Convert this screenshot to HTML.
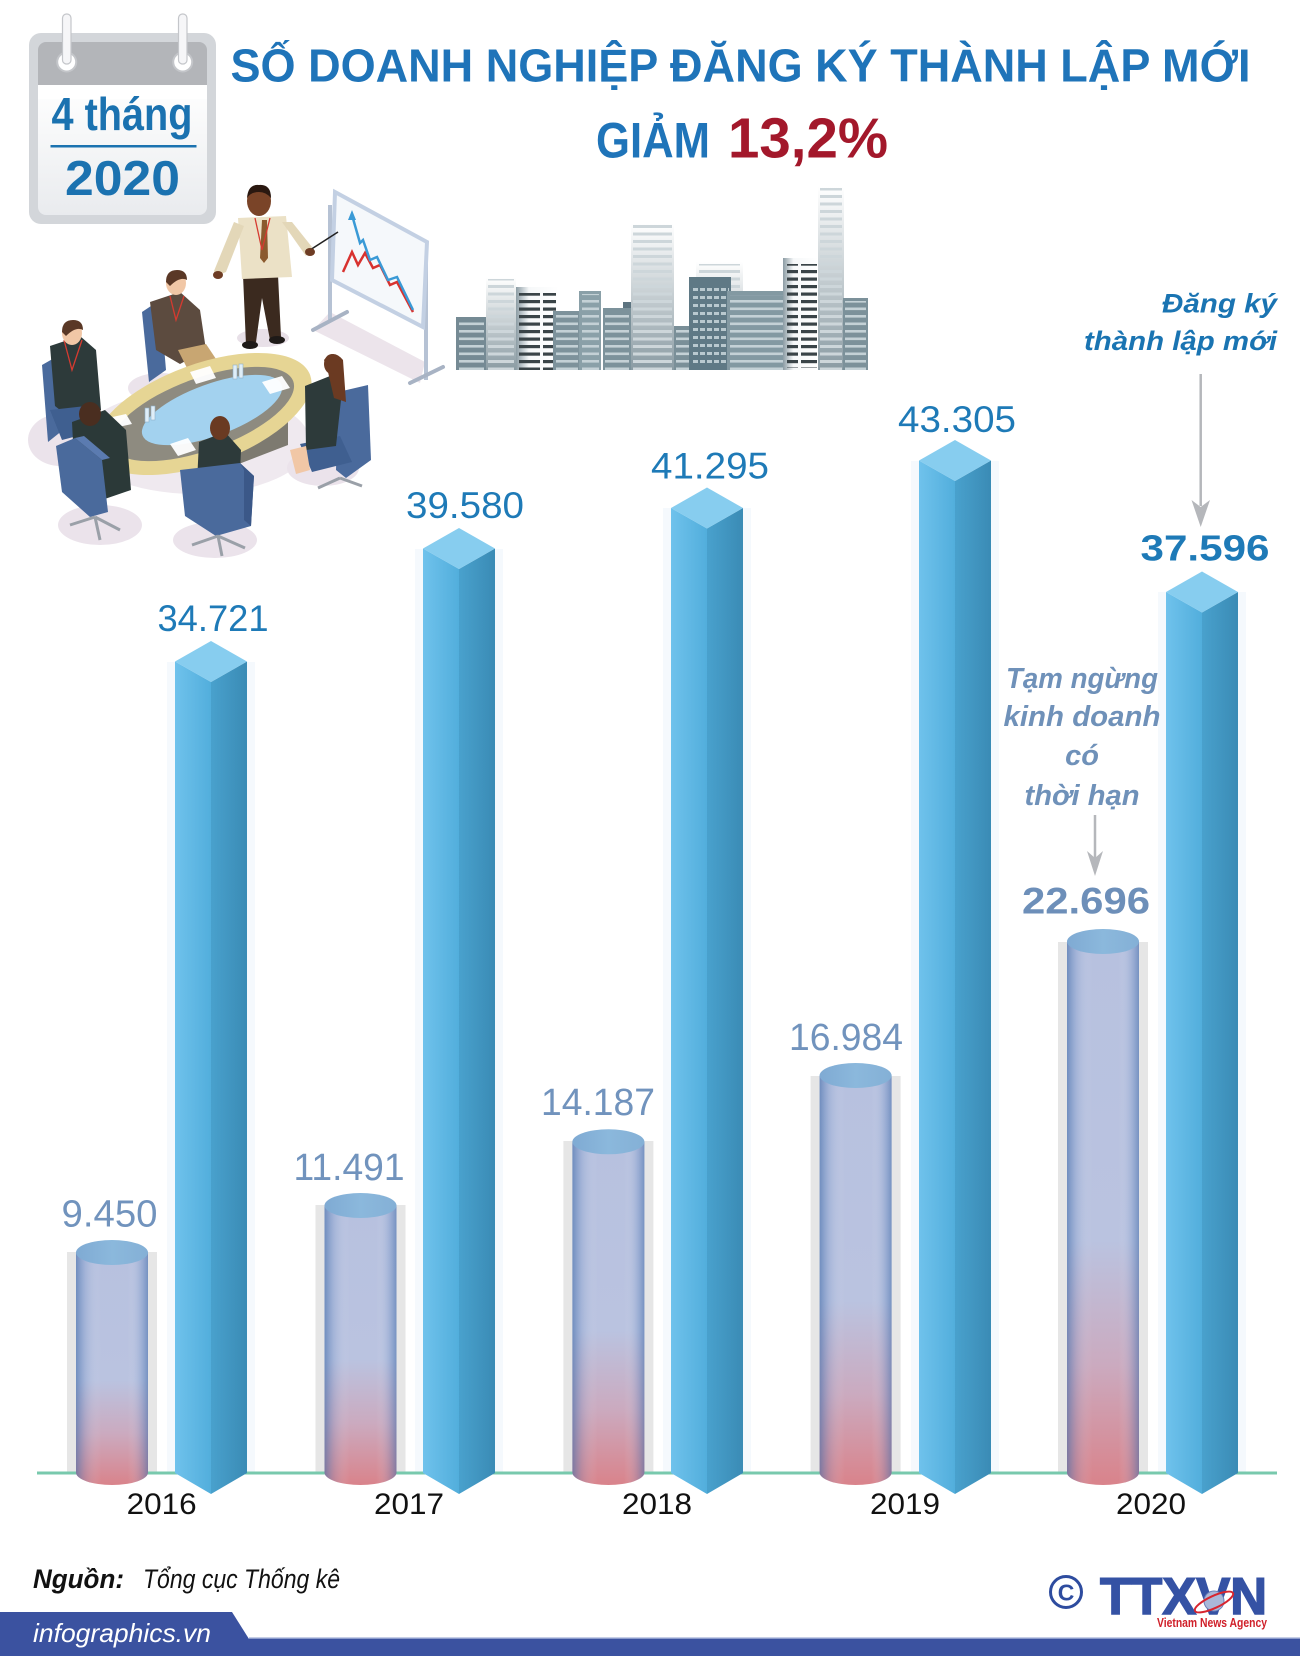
<!DOCTYPE html>
<html>
<head>
<meta charset="utf-8">
<style>
html,body{margin:0;padding:0;background:#fff;}
svg{display:block;}
text{font-family:"Liberation Sans","DejaVu Sans",sans-serif;}
</style>
</head>
<body>
<svg width="1300" height="1656" viewBox="0 0 1300 1656" xmlns="http://www.w3.org/2000/svg">
<defs>
  <linearGradient id="lf" x1="0" x2="1" y1="0" y2="0">
    <stop offset="0" stop-color="#6fc2ec"/><stop offset="1" stop-color="#52aedc"/>
  </linearGradient>
  <linearGradient id="rf" x1="0" x2="1" y1="0" y2="0">
    <stop offset="0" stop-color="#49a1cd"/><stop offset="1" stop-color="#3a8bb5"/>
  </linearGradient>
  <linearGradient id="cb" x1="0" x2="0" y1="0" y2="1">
    <stop offset="0" stop-color="#b7c1df"/><stop offset="0.55" stop-color="#bac3e0"/>
    <stop offset="0.78" stop-color="#cbaabf"/><stop offset="1" stop-color="#d9838b"/>
  </linearGradient>
  <linearGradient id="cs" x1="0" x2="1" y1="0" y2="0">
    <stop offset="0" stop-color="#3f6aa8" stop-opacity="0.6"/>
    <stop offset="0.13" stop-color="#5a82bc" stop-opacity="0.22"/>
    <stop offset="0.35" stop-color="#ffffff" stop-opacity="0"/>
    <stop offset="0.72" stop-color="#ffffff" stop-opacity="0"/>
    <stop offset="0.9" stop-color="#5a82bc" stop-opacity="0.25"/>
    <stop offset="1" stop-color="#3f6aa8" stop-opacity="0.55"/>
  </linearGradient>
  <linearGradient id="ct" x1="0" x2="1" y1="0" y2="0">
    <stop offset="0" stop-color="#7faad3"/><stop offset="0.5" stop-color="#8bb8dc"/><stop offset="1" stop-color="#84b0d6"/>
  </linearGradient>
  <linearGradient id="gLight" x1="0" x2="0" y1="0" y2="1">
    <stop offset="0" stop-color="#ffffff"/><stop offset="1" stop-color="#8a9ba3"/>
  </linearGradient>
  <linearGradient id="gLight2" x1="0" x2="1" y1="0" y2="0">
    <stop offset="0" stop-color="#8c9ca4"/><stop offset="0.3" stop-color="#f6f8f9"/><stop offset="1" stop-color="#ffffff"/>
  </linearGradient>
  <linearGradient id="calW" x1="0" x2="0" y1="0" y2="1">
    <stop offset="0" stop-color="#ffffff"/><stop offset="1" stop-color="#e9ebee"/>
  </linearGradient>
  <pattern id="pS" width="8" height="7.5" patternUnits="userSpaceOnUse">
    <rect x="0" y="0" width="8" height="2.6" fill="#c4d1d6"/>
  </pattern>
  <pattern id="pL" width="8" height="7.5" patternUnits="userSpaceOnUse">
    <rect x="0" y="0" width="8" height="3" fill="#cdd6da"/>
  </pattern>
  <pattern id="pD" width="8" height="7.5" patternUnits="userSpaceOnUse">
    <rect x="0" y="0" width="8" height="3.2" fill="#3a4448"/>
  </pattern>
  <pattern id="pG" width="7" height="8" patternUnits="userSpaceOnUse">
    <rect x="0" y="0" width="5" height="3" fill="#b9c9cf"/>
  </pattern>
</defs>

<!-- ============ CALENDAR ============ -->
<rect x="29" y="33" width="187" height="191" rx="12" fill="#d3d6da"/>
<rect x="38" y="42" width="169" height="43" rx="8" fill="#b3b5b9"/>
<rect x="38" y="70" width="169" height="15" fill="#b3b5b9"/>
<rect x="38" y="85" width="169" height="130" rx="8" fill="url(#calW)"/>
<rect x="38" y="85" width="169" height="14" fill="#ffffff"/>
<circle cx="66.7" cy="62" r="9.5" fill="#ffffff" stroke="#c4c6ca" stroke-width="2"/>
<circle cx="182.7" cy="62" r="9.5" fill="#ffffff" stroke="#c4c6ca" stroke-width="2"/>
<rect x="62.5" y="14" width="8.5" height="50" rx="4" fill="#f6f6f8" stroke="#c4c6ca" stroke-width="1.2"/>
<rect x="178.5" y="14" width="8.5" height="50" rx="4" fill="#f6f6f8" stroke="#c4c6ca" stroke-width="1.2"/>
<text x="51.5" y="130" font-size="46" font-weight="bold" fill="#1b72b0" textLength="141" lengthAdjust="spacingAndGlyphs">4 tháng</text>
<rect x="50.5" y="145" width="146" height="2.5" fill="#1b72b0"/>
<text x="65" y="195" font-size="49" font-weight="bold" fill="#1b72b0" textLength="115" lengthAdjust="spacingAndGlyphs">2020</text>

<!-- ============ TITLE ============ -->
<text x="230.5" y="81.4" font-size="46" font-weight="bold" fill="#1f74b9" textLength="1020" lengthAdjust="spacingAndGlyphs">SỐ DOANH NGHIỆP ĐĂNG KÝ THÀNH LẬP MỚI</text>
<text x="596" y="157.3" font-size="50" font-weight="bold" fill="#1f74b9" textLength="114" lengthAdjust="spacingAndGlyphs">GIẢM</text>
<text x="728" y="157.3" font-size="57" font-weight="bold" fill="#a3182b" textLength="160" lengthAdjust="spacingAndGlyphs">13,2%</text>

<!-- ============ BUILDINGS ============ -->
<g>
  <rect x="696" y="262" width="47" height="108" fill="url(#gLight)"/>
  <rect x="699" y="264" width="41" height="106" fill="url(#pL)"/>
  <rect x="456" y="317" width="30" height="53" fill="#758a94"/>
  <rect x="459" y="320" width="25" height="50" fill="url(#pS)"/>
  <rect x="486" y="278" width="30" height="92" fill="url(#gLight)"/>
  <rect x="488" y="279" width="26" height="91" fill="url(#pL)"/>
  <rect x="516" y="287" width="43" height="83" fill="url(#gLight2)"/>
  <rect x="519" y="293" width="21" height="77" fill="url(#pD)"/>
  <rect x="543" y="293" width="13" height="77" fill="url(#pD)"/>
  <rect x="553" y="311" width="27" height="59" fill="#7d929b"/>
  <rect x="556" y="314" width="22" height="56" fill="url(#pS)"/>
  <rect x="579" y="291" width="22" height="79" fill="#8aa0a8"/>
  <rect x="582" y="294" width="17" height="76" fill="url(#pS)"/>
  <rect x="623" y="302" width="10" height="68" fill="#5d7480"/>
  <rect x="603" y="308" width="28" height="62" fill="#7c929b"/>
  <rect x="605" y="311" width="24" height="59" fill="url(#pS)"/>
  <rect x="631" y="224" width="43" height="146" fill="url(#gLight)"/>
  <rect x="633" y="225" width="39" height="145" fill="url(#pL)"/>
  <rect x="674" y="326" width="17" height="44" fill="#7a8f98"/>
  <rect x="676" y="328" width="14" height="42" fill="url(#pS)"/>
  <rect x="689" y="277" width="42" height="93" fill="#5f7985"/>
  <rect x="693" y="283" width="36" height="85" fill="url(#pG)"/>
  <rect x="727" y="291" width="61" height="79" fill="#8399a2"/>
  <rect x="730" y="295" width="56" height="75" fill="url(#pS)"/>
  <rect x="783" y="258" width="35" height="112" fill="url(#gLight2)"/>
  <rect x="787" y="264" width="11" height="104" fill="url(#pD)"/>
  <rect x="801" y="264" width="16" height="104" fill="url(#pD)"/>
  <rect x="818" y="187" width="26" height="183" fill="url(#gLight)"/>
  <rect x="820" y="188" width="22" height="182" fill="url(#pL)"/>
  <rect x="843" y="298" width="25" height="72" fill="#7c919a"/>
  <rect x="845" y="301" width="21" height="69" fill="url(#pS)"/>
</g>

<!-- ============ MEETING ILLUSTRATION ============ -->
<g>
  <ellipse cx="195" cy="442" rx="115" ry="52" fill="#efe9ef"/>
  <ellipse cx="60" cy="440" rx="32" ry="26" fill="#ebe3eb"/>
  <ellipse cx="100" cy="525" rx="42" ry="20" fill="#ebe3eb"/>
  <ellipse cx="215" cy="540" rx="42" ry="18" fill="#ebe3eb"/>
  <ellipse cx="323" cy="468" rx="36" ry="18" fill="#ebe3eb"/>
  <ellipse cx="160" cy="388" rx="32" ry="15" fill="#ebe3eb"/>
  <ellipse cx="263" cy="338" rx="26" ry="9" fill="#e8e0e8"/>
  <polygon points="330,312 425,362 420,383 313,330" fill="#ece4eb"/>
  <line x1="330" y1="205" x2="330" y2="322" stroke="#b6c2d4" stroke-width="4"/>
  <line x1="426" y1="258" x2="426" y2="380" stroke="#b6c2d4" stroke-width="4"/>
  <polygon points="335,192 427,242 423,327 332,280" fill="#f5f8fb" stroke="#c3d0e3" stroke-width="4"/>
  <line x1="313" y1="330" x2="347" y2="312" stroke="#a8b3c4" stroke-width="4" stroke-linecap="round"/>
  <line x1="410" y1="383" x2="443" y2="367" stroke="#a8b3c4" stroke-width="4" stroke-linecap="round"/>
  <polyline points="343,272 352,252 358,265 365,253 373,268 380,265 390,285 397,282 413,312" fill="none" stroke="#d8322f" stroke-width="2.5"/>
  <polyline points="352,215 360,243 363,240 370,260 377,257 388,280 397,277 413,310" fill="none" stroke="#3a9ad6" stroke-width="2.5"/>
  <polygon points="348,220 352,210 356,220" fill="#3a9ad6"/>
  <polygon points="243,275 278,275 281,337 270,340 262,298 256,342 246,345" fill="#3b2a1f"/>
  <ellipse cx="250" cy="345" rx="8" ry="4" fill="#1e1a18"/>
  <ellipse cx="277" cy="340" rx="8" ry="4" fill="#1e1a18"/>
  <polygon points="238,218 286,216 292,277 242,279" fill="#ebe1c6"/>
  <polygon points="234,222 244,226 226,272 216,276 214,271" fill="#e3d7b8"/>
  <polygon points="282,222 292,222 312,247 306,256" fill="#e3d7b8"/>
  <line x1="310" y1="250" x2="338" y2="232" stroke="#222" stroke-width="1.6"/>
  <ellipse cx="218" cy="275" rx="5" ry="4" fill="#6e3c24"/>
  <ellipse cx="310" cy="252" rx="5" ry="4" fill="#6e3c24"/>
  <polygon points="262,220 267,220 268,258 264,263 260,258" fill="#8b5a2e"/>
  <polyline points="255,218 262,250 270,218" fill="none" stroke="#d63a30" stroke-width="1.3"/>
  <ellipse cx="259" cy="201" rx="12" ry="15" fill="#7a4428"/>
  <path d="M247,198 Q248,184 259,185 Q271,184 271,198 Q266,192 259,192 Q251,192 247,198Z" fill="#2a1810"/>
  <polygon points="142,312 160,300 166,370 149,382" fill="#4a6a9c"/>
  <polygon points="150,302 180,292 200,310 206,350 180,364 156,350" fill="#5c4b3f"/>
  <polygon points="178,350 206,344 218,362 190,374" fill="#c8a672"/>
  <polyline points="170,296 176,320 184,296" fill="none" stroke="#d63a30" stroke-width="1.3"/>
  <ellipse cx="176" cy="283" rx="10" ry="12" fill="#f1c7a6"/>
  <path d="M166,282 Q166,270 177,270 Q187,270 187,280 Q180,276 170,286Z" fill="#5a3826"/>
  <polygon points="42,365 56,357 63,430 48,442" fill="#4a6a9c"/>
  <polygon points="50,346 80,336 96,350 101,410 75,422 55,406" fill="#2d3a3a"/>
  <polyline points="64,340 72,370 82,340" fill="none" stroke="#d63a30" stroke-width="1.3"/>
  <polygon points="50,410 95,405 108,428 62,440" fill="#3f5f90"/>
  <ellipse cx="72" cy="333" rx="10" ry="12" fill="#f1c7a6"/>
  <path d="M62,332 Q62,320 73,320 Q83,320 83,330 Q76,326 66,336Z" fill="#5a3826"/>
  <polygon points="338,392 368,385 371,460 346,478 336,470" fill="#4a6a9c"/>
  <polygon points="300,444 340,436 352,462 312,472" fill="#3f5f90"/>
  <polygon points="215,430 288,400 288,445 218,472" fill="#7d7a70"/>
  <ellipse cx="203" cy="414" rx="114" ry="50" transform="rotate(-20 203 414)" fill="#e6d594"/>
  <ellipse cx="203" cy="414" rx="96" ry="36" transform="rotate(-20 203 414)" fill="#8e8b80"/>
  <ellipse cx="212" cy="410" rx="74" ry="26" transform="rotate(-20 212 410)" fill="#a3d2ef"/>
  <polygon points="190,372 210,366 216,378 196,384" fill="#ffffff" opacity="0.95"/>
  <polygon points="262,382 282,376 290,388 270,394" fill="#ffffff" opacity="0.95"/>
  <polygon points="108,418 126,414 132,424 114,428" fill="#ffffff" opacity="0.95"/>
  <polygon points="170,444 188,438 196,450 178,456" fill="#ffffff" opacity="0.95"/>
  <rect x="233" y="365" width="4" height="14" fill="#dfeef8" stroke="#8fb0c8" stroke-width="0.6"/>
  <rect x="239" y="364" width="4" height="14" fill="#dfeef8" stroke="#8fb0c8" stroke-width="0.6"/>
  <rect x="145" y="408" width="4" height="14" fill="#dfeef8" stroke="#8fb0c8" stroke-width="0.6"/>
  <rect x="151" y="406" width="4" height="14" fill="#dfeef8" stroke="#8fb0c8" stroke-width="0.6"/>
  <polygon points="305,386 330,376 341,400 336,446 306,450" fill="#2d3a3a"/>
  <polygon points="290,450 306,446 310,470 296,474" fill="#f1c7a6"/>
  <path d="M324,360 Q333,348 343,360 L346,402 L334,398 L328,372Z" fill="#6b3a22"/>
  <ellipse cx="332" cy="364" rx="8" ry="10" fill="#6b3a22"/>
  <polygon points="72,422 105,410 126,430 131,490 96,502 75,482" fill="#2b3938"/>
  <ellipse cx="90" cy="414" rx="11" ry="12" fill="#4a2e20"/>
  <polygon points="56,446 75,438 102,460 108,512 90,517 62,492" fill="#4a6a9c"/>
  <polygon points="75,438 84,436 110,458 102,460" fill="#5b7bb0"/>
  <line x1="95" y1="517" x2="70" y2="525" stroke="#9aa0a8" stroke-width="3"/>
  <line x1="95" y1="517" x2="120" y2="530" stroke="#9aa0a8" stroke-width="3"/>
  <line x1="95" y1="517" x2="100" y2="540" stroke="#9aa0a8" stroke-width="3"/>
  <polygon points="199,442 225,432 241,450 239,495 210,502 197,482" fill="#2d3a3a"/>
  <ellipse cx="220" cy="428" rx="10" ry="12" fill="#6a3a22"/>
  <polygon points="180,470 240,463 254,476 251,526 216,536 185,516" fill="#4a6a9c"/>
  <polygon points="240,463 254,476 251,526 244,520 244,470" fill="#3b5888"/>
  <line x1="218" y1="536" x2="192" y2="545" stroke="#9aa0a8" stroke-width="3"/>
  <line x1="218" y1="536" x2="245" y2="548" stroke="#9aa0a8" stroke-width="3"/>
  <line x1="218" y1="536" x2="222" y2="556" stroke="#9aa0a8" stroke-width="3"/>
  <line x1="340" y1="478" x2="318" y2="488" stroke="#9aa0a8" stroke-width="3"/>
  <line x1="340" y1="478" x2="362" y2="486" stroke="#9aa0a8" stroke-width="3"/>
</g>

<!-- ============ TOP ANNOTATION ============ -->
<text x="1277" y="312.7" font-size="27" font-weight="bold" font-style="italic" fill="#1a74b2" text-anchor="end" textLength="115" lengthAdjust="spacingAndGlyphs">Đăng ký</text>
<text x="1277" y="350" font-size="27" font-weight="bold" font-style="italic" fill="#1a74b2" text-anchor="end" textLength="193" lengthAdjust="spacingAndGlyphs">thành lập mới</text>
<line x1="1200.7" y1="374" x2="1200.7" y2="506" stroke="#b5b7bb" stroke-width="2.5"/>
<path d="M1191.5,500 L1200.7,527 L1210,500 L1200.7,507 Z" fill="#b5b7bb"/>

<!-- ============ CHART ============ -->
<g fill="#f5f9fd">
  <rect x="167" y="662" width="88" height="811"/>
  <rect x="415" y="549" width="88" height="924"/>
  <rect x="663" y="508" width="88" height="965"/>
  <rect x="911" y="461" width="88" height="1012"/>
  <rect x="1158" y="592" width="88" height="881"/>
</g>
<g fill="#e6e6e6">
  <rect x="67" y="1252" width="90" height="221"/>
  <rect x="315.5" y="1205" width="90" height="268"/>
  <rect x="563.4" y="1141" width="90" height="332"/>
  <rect x="810.6" y="1076" width="90" height="397"/>
  <rect x="1058" y="942" width="90" height="531"/>
</g>
<line x1="37" y1="1473" x2="1277" y2="1473" stroke="#78c9ad" stroke-width="3"/>

<g>
  <path d="M76,1252.5 L76,1472.5 A36 12.5 0 0 0 148,1472.5 L148,1252.5 Z" fill="url(#cb)"/>
  <path d="M76,1252.5 L76,1472.5 A36 12.5 0 0 0 148,1472.5 L148,1252.5 Z" fill="url(#cs)"/>
  <ellipse cx="112" cy="1252.5" rx="36" ry="12.5" fill="url(#ct)"/>

  <path d="M324.5,1205.5 L324.5,1472.5 A36 12.5 0 0 0 396.5,1472.5 L396.5,1205.5 Z" fill="url(#cb)"/>
  <path d="M324.5,1205.5 L324.5,1472.5 A36 12.5 0 0 0 396.5,1472.5 L396.5,1205.5 Z" fill="url(#cs)"/>
  <ellipse cx="360.5" cy="1205.5" rx="36" ry="12.5" fill="url(#ct)"/>

  <path d="M572.4,1141.8 L572.4,1472.5 A36 12.5 0 0 0 644.4,1472.5 L644.4,1141.8 Z" fill="url(#cb)"/>
  <path d="M572.4,1141.8 L572.4,1472.5 A36 12.5 0 0 0 644.4,1472.5 L644.4,1141.8 Z" fill="url(#cs)"/>
  <ellipse cx="608.4" cy="1141.8" rx="36" ry="12.5" fill="url(#ct)"/>

  <path d="M819.6,1075.5 L819.6,1472.5 A36 12.5 0 0 0 891.6,1472.5 L891.6,1075.5 Z" fill="url(#cb)"/>
  <path d="M819.6,1075.5 L819.6,1472.5 A36 12.5 0 0 0 891.6,1472.5 L891.6,1075.5 Z" fill="url(#cs)"/>
  <ellipse cx="855.6" cy="1075.5" rx="36" ry="12.5" fill="url(#ct)"/>

  <path d="M1067,941.5 L1067,1472.5 A36 12.5 0 0 0 1139,1472.5 L1139,941.5 Z" fill="url(#cb)"/>
  <path d="M1067,941.5 L1067,1472.5 A36 12.5 0 0 0 1139,1472.5 L1139,941.5 Z" fill="url(#cs)"/>
  <ellipse cx="1103" cy="941.5" rx="36" ry="12.5" fill="url(#ct)"/>
</g>

<g>
  <polygon points="175,661.5 211,682 211,1494 175,1473" fill="url(#lf)"/>
  <polygon points="211,682 247,661.5 247,1473 211,1494" fill="url(#rf)"/>
  <polygon points="175,661.5 211,641 247,661.5 211,682" fill="#87cdef"/>

  <polygon points="423,548.5 459,569 459,1494 423,1473" fill="url(#lf)"/>
  <polygon points="459,569 495,548.5 495,1473 459,1494" fill="url(#rf)"/>
  <polygon points="423,548.5 459,528 495,548.5 459,569" fill="#87cdef"/>

  <polygon points="671,508 707,528.5 707,1494 671,1473" fill="url(#lf)"/>
  <polygon points="707,528.5 743,508 743,1473 707,1494" fill="url(#rf)"/>
  <polygon points="671,508 707,487.5 743,508 707,528.5" fill="#87cdef"/>

  <polygon points="919,460.5 955,481 955,1494 919,1473" fill="url(#lf)"/>
  <polygon points="955,481 991,460.5 991,1473 955,1494" fill="url(#rf)"/>
  <polygon points="919,460.5 955,440 991,460.5 955,481" fill="#87cdef"/>

  <polygon points="1166,592 1202,612.5 1202,1494 1166,1473" fill="url(#lf)"/>
  <polygon points="1202,612.5 1238,592 1238,1473 1202,1494" fill="url(#rf)"/>
  <polygon points="1166,592 1202,571.5 1238,592 1202,612.5" fill="#87cdef"/>
</g>

<g font-size="37" fill="#1e7ab7" text-anchor="middle">
  <text x="213" y="631" textLength="111" lengthAdjust="spacingAndGlyphs">34.721</text>
  <text x="465" y="518" textLength="118" lengthAdjust="spacingAndGlyphs">39.580</text>
  <text x="710" y="478.6" textLength="118" lengthAdjust="spacingAndGlyphs">41.295</text>
  <text x="957" y="432" textLength="118" lengthAdjust="spacingAndGlyphs">43.305</text>
</g>
<text x="1205" y="560.7" font-size="36" font-weight="bold" fill="#1e7ab7" text-anchor="middle" textLength="129" lengthAdjust="spacingAndGlyphs">37.596</text>

<g font-size="38" fill="#7193bd" text-anchor="middle">
  <text x="109.5" y="1226.7" textLength="96" lengthAdjust="spacingAndGlyphs">9.450</text>
  <text x="349" y="1180" textLength="111" lengthAdjust="spacingAndGlyphs">11.491</text>
  <text x="598" y="1115" textLength="114" lengthAdjust="spacingAndGlyphs">14.187</text>
  <text x="846" y="1050" textLength="114" lengthAdjust="spacingAndGlyphs">16.984</text>
</g>
<text x="1086" y="913.6" font-size="37" font-weight="bold" fill="#6d8fb9" text-anchor="middle" textLength="128" lengthAdjust="spacingAndGlyphs">22.696</text>

<g font-size="29" font-weight="bold" font-style="italic" fill="#6f91b9" text-anchor="middle">
  <text x="1082" y="688" textLength="152" lengthAdjust="spacingAndGlyphs">Tạm ngừng</text>
  <text x="1082" y="726" textLength="157" lengthAdjust="spacingAndGlyphs">kinh doanh</text>
  <text x="1082" y="765">có</text>
  <text x="1082" y="805" textLength="115" lengthAdjust="spacingAndGlyphs">thời hạn</text>
</g>
<line x1="1095" y1="815" x2="1095" y2="858" stroke="#b5b7bb" stroke-width="2.5"/>
<path d="M1087,851 L1095,876 L1103,851 L1095,858 Z" fill="#b5b7bb"/>

<g font-size="30" fill="#111" text-anchor="middle">
  <text x="161.7" y="1514" textLength="70" lengthAdjust="spacingAndGlyphs">2016</text>
  <text x="409" y="1514" textLength="70" lengthAdjust="spacingAndGlyphs">2017</text>
  <text x="657" y="1514" textLength="70" lengthAdjust="spacingAndGlyphs">2018</text>
  <text x="905" y="1514" textLength="70" lengthAdjust="spacingAndGlyphs">2019</text>
  <text x="1151" y="1514" textLength="70" lengthAdjust="spacingAndGlyphs">2020</text>
</g>

<!-- ============ FOOTER ============ -->
<text x="33" y="1588" font-size="27" font-weight="bold" font-style="italic" fill="#111" textLength="91" lengthAdjust="spacingAndGlyphs">Nguồn:</text>
<text x="143" y="1588" font-size="27" font-style="italic" fill="#111" textLength="197" lengthAdjust="spacingAndGlyphs">Tổng cục Thống kê</text>

<circle cx="1066" cy="1592" r="15.5" fill="none" stroke="#2e4c9f" stroke-width="3"/>
<text x="1066" y="1600.5" font-size="23" font-weight="bold" fill="#2e4c9f" text-anchor="middle">C</text>
<text x="1100" y="1614" font-size="52" font-weight="bold" fill="#3552a4" textLength="167" lengthAdjust="spacingAndGlyphs" stroke="#3552a4" stroke-width="1.5">TTXVN</text>
<ellipse cx="1214" cy="1601" rx="10" ry="10" fill="#aab8d8" stroke="#6a7fb8" stroke-width="1"/>
<ellipse cx="1214" cy="1602" rx="21" ry="6" fill="none" stroke="#d8252f" stroke-width="2" transform="rotate(-25 1214 1602)"/>
<text x="1157" y="1627" font-size="12.5" font-weight="bold" fill="#d0202a" textLength="110" lengthAdjust="spacingAndGlyphs">Vietnam News Agency</text>

<polygon points="0,1612 232,1612 249,1639 0,1639" fill="#3b52a0"/>
<rect x="0" y="1639" width="1300" height="17" fill="#3b52a0"/>
<rect x="249" y="1637.5" width="1051" height="1.5" fill="#8c9ccc"/>
<text x="33" y="1642" font-size="26" font-style="italic" fill="#ffffff" textLength="178" lengthAdjust="spacingAndGlyphs">infographics.vn</text>
</svg>
</body>
</html>
